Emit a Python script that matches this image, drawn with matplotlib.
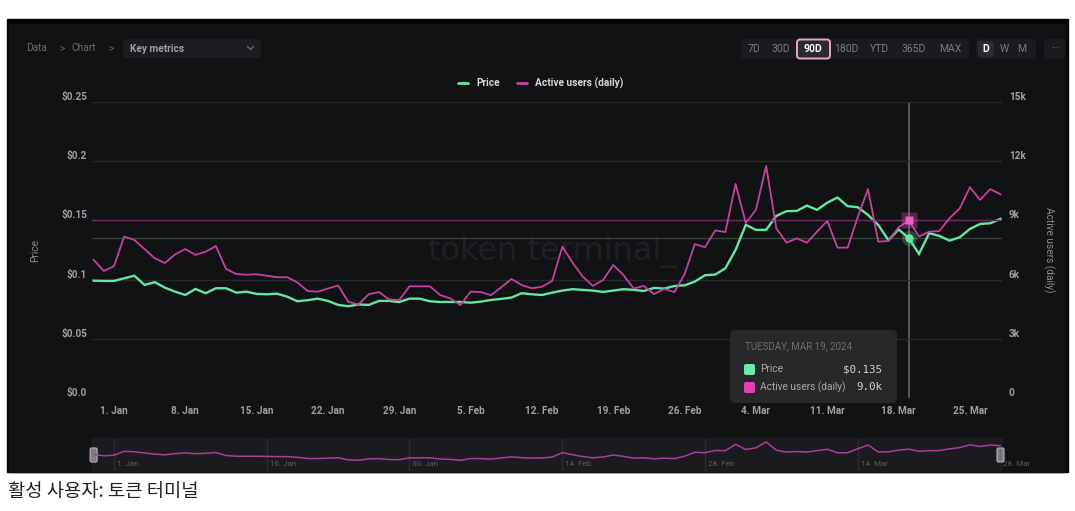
import matplotlib
matplotlib.use('Agg')
import matplotlib.pyplot as plt
import matplotlib.dates as mdates
from matplotlib.patches import Rectangle, FancyBboxPatch
import pandas as pd

W, H = 1075, 511

# ---------------- data ----------------
dates = pd.date_range('2023-12-30', '2024-03-28', freq='D')
price = [0.0991, 0.0989, 0.0989, 0.1011, 0.1033, 0.0955, 0.0978, 0.0932, 0.0898, 0.0870,
         0.0921, 0.0885, 0.0927, 0.0927, 0.0890, 0.0898, 0.0879, 0.0876, 0.0881, 0.0856,
         0.0817, 0.0826, 0.0839, 0.0820, 0.0786, 0.0775, 0.0790, 0.0786, 0.0820, 0.0820,
         0.0811, 0.0839, 0.0839, 0.0817, 0.0811, 0.0811, 0.0811, 0.0805, 0.0814, 0.0828,
         0.0837, 0.0848, 0.0885, 0.0876, 0.0870, 0.0890, 0.0907, 0.0919, 0.0913, 0.0907,
         0.0896, 0.0907, 0.0919, 0.0913, 0.0904, 0.0930, 0.0924, 0.0946, 0.0952, 0.0983,
         0.1037, 0.1042, 0.1096, 0.1251, 0.1462, 0.1420, 0.1420, 0.1538, 0.1578, 0.1580,
         0.1625, 0.1589, 0.1650, 0.1693, 0.1620, 0.1611, 0.1546, 0.1462, 0.1333, 0.1424,
         0.1350, 0.1217, 0.1392, 0.1369, 0.1329, 0.1358, 0.1428, 0.1470, 0.1476, 0.1513]
active_users = [7000, 6440, 6680, 8180, 8010, 7550, 7080, 6840, 7280, 7550,
                7250, 7410, 7700, 6540, 6280, 6250, 6270, 6200, 6120, 6120,
                5860, 5420, 5390, 5550, 5700, 4870, 4740, 5260, 5370, 4990,
                4970, 5660, 5660, 5660, 5220, 5050, 4710, 5390, 5370, 5210,
                5610, 6030, 5730, 5560, 5640, 5930, 7670, 6860, 6150, 5680,
                5980, 6740, 6230, 5550, 5680, 5270, 5520, 5370, 6280, 7800,
                7640, 8490, 8410, 10850, 8870, 9530, 11760, 8600, 7870, 8090,
                7870, 8430, 8970, 7620, 7620, 9190, 10590, 7920, 7960, 8650,
                9000, 8180, 8430, 8460, 9110, 9610, 10680, 10040, 10590, 10320]

price_ticks = [0, 0.05, 0.1, 0.15, 0.2, 0.25]
price_tick_labels = ['$0.0', '$0.05', '$0.1', '$0.15', '$0.2', '$0.25']
au_ticks = [0, 3000, 6000, 9000, 12000, 15000]
au_tick_labels = ['0', '3k', '6k', '9k', '12k', '15k']
xtick_dates = pd.date_range('2024-01-01', '2024-03-25', freq='7D')
xtick_labels = ['1. Jan', '8. Jan', '15. Jan', '22. Jan', '29. Jan', '5. Feb', '12. Feb',
                '19. Feb', '26. Feb', '4. Mar', '11. Mar', '18. Mar', '25. Mar']
nav_tick_dates = pd.to_datetime(['2024-01-01', '2024-01-16', '2024-01-30', '2024-02-14',
                                 '2024-02-28', '2024-03-14', '2024-03-28'])
nav_tick_labels = ['1. Jan', '16. Jan', '30. Jan', '14. Feb', '28. Feb', '14. Mar', '28. Mar']
hover_date = pd.Timestamp('2024-03-19')
hover_title = 'TUESDAY, MAR 19, 2024'
series_names = ['Price', 'Active users (daily)']
range_buttons = ['7D', '30D', '90D', '180D', 'YTD', '365D', 'MAX']
freq_buttons = ['D', 'W', 'M']
caption = '활성 사용자: 토큰 터미널'

# ---------------- style ----------------
GREEN = '#66e6a0'
PINK = '#c8409f'
TICK = '#a0a0a3'
GRID = '#28292c'
PANEL = '#111214'
FONT = ['Roboto', 'DejaVu Sans']
plt.rcParams['font.family'] = FONT


def rect(l, t, r, b):
    return [l / W, 1 - b / H, (r - l) / W, (b - t) / H]


fig = plt.figure(figsize=(W / 100, H / 100), dpi=100, facecolor='white')

# background / UI layer (pixel coordinates)
bg = fig.add_axes([0, 0, 1, 1], zorder=0)
bg.set_xlim(0, W); bg.set_ylim(H, 0); bg.axis('off')
bg.add_patch(Rectangle((7, 19), 1061, 453, color='#060607'))
bg.add_patch(Rectangle((9, 24), 1056, 448, color=PANEL))

# breadcrumb
bg.text(26, 48, 'Data', color='#6c6c70', fontsize=7.3, va='center')
bg.text(59, 48, '>', color='#6c6c70', fontsize=7, va='center')
bg.text(71, 48, 'Chart', color='#6c6c70', fontsize=7.3, va='center')
bg.text(108, 48, '>', color='#6c6c70', fontsize=7, va='center')
bg.add_patch(FancyBboxPatch((123, 39), 138, 19, boxstyle='round,pad=0,rounding_size=4',
                            fc='#1b1c1f', ec='none'))
bg.text(130, 48.5, 'Key metrics', color='#a0a0a4', fontsize=7.3, va='center', weight='bold')
bg.plot([247.5, 250.5, 253.5], [46.5, 49.5, 46.5], color='#6c6c70', lw=0.9)

# range buttons
bg.add_patch(FancyBboxPatch((741, 39), 228, 20, boxstyle='round,pad=0,rounding_size=4',
                            fc='#1a1b1e', ec='none'))
btn_x = [754, 781, 813, 846, 879, 914, 950]
for lab, x in zip(range_buttons, btn_x):
    if lab == '90D':
        bg.add_patch(FancyBboxPatch((797, 39.5), 33, 19, boxstyle='round,pad=0,rounding_size=3',
                                    fc='#2b2b2f', ec='#e7a6cf', lw=1.4))
        bg.text(x, 49, lab, color='white', fontsize=7.5, ha='center', va='center', weight='bold')
    else:
        bg.text(x, 49, lab, color='#7c7c80', fontsize=7.5, ha='center', va='center')
bg.add_patch(FancyBboxPatch((976, 39), 60, 20, boxstyle='round,pad=0,rounding_size=4',
                            fc='#1a1b1e', ec='none'))
bg.add_patch(FancyBboxPatch((978, 41), 16, 16, boxstyle='round,pad=0,rounding_size=3',
                            fc='#2b2b2f', ec='none'))
for lab, x in zip(freq_buttons, [986, 1004, 1022]):
    bg.text(x, 49, lab, color='white' if lab == 'D' else '#7c7c80', fontsize=7.5,
            ha='center', va='center', weight='bold' if lab == 'D' else 'normal')
bg.add_patch(FancyBboxPatch((1044, 39), 21, 20, boxstyle='round,pad=0,rounding_size=4',
                            fc='#1a1b1e', ec='none'))
bg.text(1055, 48, '···', color='#7c7c80', fontsize=7, ha='center', va='center')

# legend
bg.plot([458, 468], [83, 83], color=GREEN, lw=2, solid_capstyle='round')
bg.text(476, 83, series_names[0], color='#d8d8da', fontsize=7.3, va='center', weight='bold')
bg.plot([517, 527], [83, 83], color=PINK, lw=2, solid_capstyle='round')
bg.text(535, 83, series_names[1], color='#d8d8da', fontsize=7.3, va='center', weight='bold')

# axis titles
bg.text(35, 250, 'Price', color='#8c8c90', fontsize=7.3, rotation=90, ha='center', va='center')
bg.text(1049, 250, 'Active users (daily)', color='#8c8c90', fontsize=7.3, rotation=-90,
        ha='center', va='center')

# watermark
bg.text(553, 252, 'token terminal_', color='#1f2023', fontsize=23,
        ha='center', va='center', family='DejaVu Sans')

# caption
bg.text(8, 491, caption, color='#222222', fontsize=13.5, va='center',
        family=['Noto Sans CJK KR', 'DejaVu Sans'])

# ---------------- main chart ----------------
base = mdates.date2num(dates[0])
PX_DAY = 10.19
ax = fig.add_axes(rect(92, 102, 1002, 398), zorder=2)
ax.set_facecolor('none')
ax.set_xlim(base - 1.6 / PX_DAY, base + (1002 - 93.6) / PX_DAY)
ax.set_ylim(0, 0.25)
ax.set_yticks(price_ticks)
ax.grid(axis='y', color=GRID, lw=1)
ax.tick_params(axis='y', length=0, labelleft=False)
ax.set_xticks(xtick_dates)
ax.set_xticklabels(xtick_labels)
ax.tick_params(axis='x', length=0, pad=6, colors=TICK, labelsize=7.2)
for lbl in ax.get_xticklabels():
    lbl.set_fontweight('bold')
for s in ax.spines.values():
    s.set_visible(False)

ax2 = ax.twinx()
ax2.set_ylim(0, 15000)
ax2.set_yticks(au_ticks)
ax2.tick_params(axis='y', length=0, labelright=False)
for s in ax2.spines.values():
    s.set_visible(False)

for v, lab in zip(price_ticks, price_tick_labels):
    ax.annotate(lab, xy=(0, v), xycoords=('axes fraction', 'data'), xytext=(-3.6, 3.6),
                textcoords='offset points', ha='right', va='center', color=TICK,
                fontsize=7.2, weight='bold')
for v, lab in zip(au_ticks, au_tick_labels):
    ax2.annotate(lab, xy=(1, v), xycoords=('axes fraction', 'data'), xytext=(5, 3.6),
                 textcoords='offset points', ha='left', va='center', color=TICK,
                 fontsize=7.2, weight='bold')

hi = list(dates).index(hover_date)
hp, hu = price[hi], active_users[hi]

# crosshairs
ax2.axhline(hu, color='#6a2a5c', lw=1, zorder=1)
ax.axhline(hp, color='#35423b', lw=1, zorder=1)
ax.axvline(hover_date, color='#5e5e62', lw=1.3, zorder=1)

ax.plot(dates, price, color=GREEN, lw=1.7, zorder=3, solid_joinstyle='miter')
ax2.plot(dates, active_users, color=PINK, lw=1.3, zorder=3)

ax.plot([hover_date], [hp], 'o', ms=11, color=GREEN, alpha=0.25, zorder=4, mec='none')
ax.plot([hover_date], [hp], 'o', ms=6, color=GREEN, zorder=5, mec='none')
ax2.plot([hover_date], [hu], 's', ms=11, color='#e455b8', alpha=0.3, zorder=4, mec='none')
ax2.plot([hover_date], [hu], 's', ms=6, color='#ee5cc4', zorder=5, mec='none')

# ---------------- tooltip ----------------
ov = fig.add_axes([0, 0, 1, 1], zorder=6)
ov.set_xlim(0, W); ov.set_ylim(H, 0); ov.axis('off')
ov.add_patch(FancyBboxPatch((730, 330), 167, 73, boxstyle='round,pad=0,rounding_size=5',
                            fc='#29292c', ec='none', alpha=0.97))
ov.text(745, 346, hover_title, color='#6e6e72', fontsize=7, va='center')
ov.add_patch(FancyBboxPatch((744, 364), 11, 11, boxstyle='round,pad=0,rounding_size=2',
                            fc='#6eeaa8', ec='none'))
ov.add_patch(FancyBboxPatch((744, 382), 11, 11, boxstyle='round,pad=0,rounding_size=2',
                            fc='#e43fb5', ec='none'))
ov.text(760, 369.5, series_names[0], color='#a8a8ac', fontsize=7.3, va='center')
ov.text(760, 387.5, series_names[1], color='#a8a8ac', fontsize=7.3, va='center')
ov.text(882, 369.5, f'${hp:.3f}', color='#d0d0d2', fontsize=7.8, va='center', ha='right',
        family='DejaVu Sans Mono')
ov.text(882, 387.5, f'{hu / 1000:.1f}k', color='#d0d0d2', fontsize=7.8, va='center',
        ha='right', family='DejaVu Sans Mono')

# ---------------- navigator ----------------
bg.add_patch(Rectangle((92, 438.5), 910, 33, color='#1b1a1e'))
nav = fig.add_axes(rect(93.6, 438.5, 1000.5, 471), zorder=3)
nav.set_facecolor('none')
nav.set_xlim(base, mdates.date2num(dates[-1]))
nav.set_ylim(600, 13100)
nav.set_xticks(nav_tick_dates)
nav.tick_params(length=0, labelbottom=False, labelleft=False)
nav.set_yticks([])
nav.grid(axis='x', color='#2d2c31', lw=1)
for s in nav.spines.values():
    s.set_visible(False)
nav.plot(dates, active_users, color='#a8409a', lw=1.1)
for d, lab in zip(nav_tick_dates, nav_tick_labels):
    nav.annotate(lab, xy=(d, 0), xycoords=('data', 'axes fraction'), xytext=(2, 3),
                 textcoords='offset points', ha='left', va='bottom', color='#5c5c60',
                 fontsize=5.8, annotation_clip=False)
for hx in [93.6, 1000.5]:
    bg.add_patch(FancyBboxPatch((hx - 3.5, 448), 7, 14, boxstyle='round,pad=0,rounding_size=1.5',
                                fc='#7d7d80', ec='#b4b4b8', lw=0.8, zorder=5))

fig.savefig('out.png', dpi=100, facecolor='white')
